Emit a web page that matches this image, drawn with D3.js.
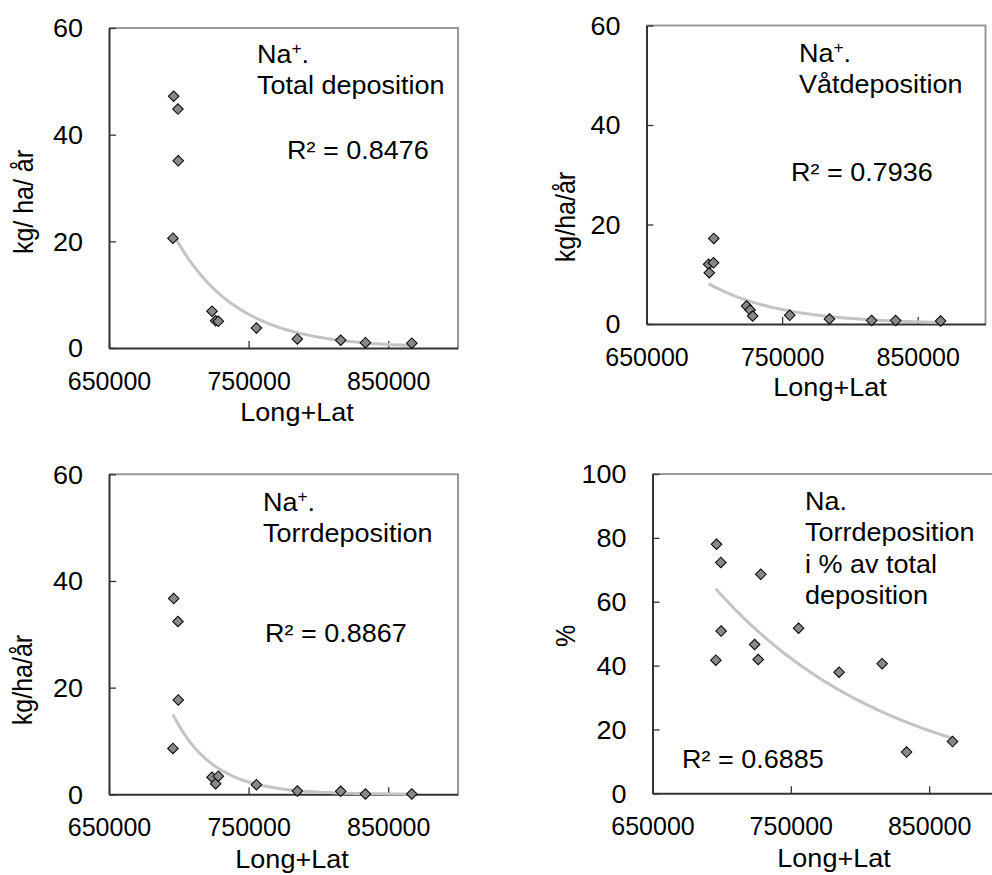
<!DOCTYPE html>
<html lang="sv">
<head>
<meta charset="UTF-8">
<title>Na deposition vs Long+Lat</title>
<script src="https://cdn.jsdelivr.net/npm/d3@7/dist/d3.min.js"></script>
<style>
  body { margin: 0; background: #fff; }
  text { font-family: "Liberation Sans", Arial, sans-serif; font-size: 25px; fill: #000; }
</style>
</head>
<body>
<script>

var longLat = [695800, 696300, 699400, 699600, 723800, 726400, 728300, 755600, 784900, 816000, 833700, 866900];
var totalDep = [20.6, 47.2, 44.8, 35.1, 6.9, 5.1, 5.0, 3.75, 1.7, 1.45, 1.0, 0.9];
var wetDep   = [12.0, 10.3, 12.3, 17.2, 3.6, 2.8, 1.6, 1.75, 1.0, 0.7, 0.7, 0.6];
var dryDep   = [8.6, 36.7, 32.4, 17.7, 3.2, 2.0, 3.4, 1.8, 0.62, 0.56, 0.06, 0.06];
var dryPct   = [41.7, 78.0, 72.3, 50.8, 46.6, 41.9, 68.6, 51.7, 37.9, 40.6, 12.9, 16.2];

var xTicks = [650000, 750000, 850000];
var kgTicks = [0, 20, 40, 60];
var pctTicks = [0, 20, 40, 60, 80, 100];

var SX = 1.08; // text in the picture is a bit wide

var panels = [
  { values: totalDep, yMax: 60, yTicks: kgTicks, box: [109, 458, 28, 348],
    ylab: "kg/ ha/ år", ylabPos: [24, 202], xlabPos: [297, 421],
    lines: ["Na", "Total deposition"], notePos: [257, 63], r2: "R² = 0.8476", r2Pos: [287, 159] },
  { values: wetDep, yMax: 60, yTicks: kgTicks, box: [646.5, 985.5, 25.5, 324],
    ylab: "kg/ha/år", ylabPos: [566, 217], xlabPos: [830, 396],
    lines: ["Na", "Våtdeposition"], notePos: [799, 62], r2: "R² = 0.7936", r2Pos: [791, 181] },
  { values: dryDep, yMax: 60, yTicks: kgTicks, box: [109, 458, 474.3, 794.3],
    ylab: "kg/ha/år", ylabPos: [23, 680], xlabPos: [292, 868],
    lines: ["Na", "Torrdeposition"], notePos: [263, 511], r2: "R² = 0.8867", r2Pos: [265, 642] },
  { values: dryPct, yMax: 100, yTicks: pctTicks, box: [652.5, 998.3, 474, 793.3],
    ylab: "%", ylabPos: [566, 636], xlabPos: [834, 867],
    lines: ["Na.", "Torrdeposition", "i % av total", "deposition"], notePos: [805, 510], plain: true,
    r2: "R² = 0.6885", r2Pos: [682, 768] }
];

var svg = d3.select("body").append("svg")
  .attr("width", 992)
  .attr("height", 875);

function txt(g, x, y, s, anchor) {
  return g.append("text")
    .attr("transform", "translate(" + x + "," + y + ") scale(" + SX + ",1)")
    .attr("text-anchor", anchor || "start")
    .text(s);
}

// exponential trendline, least squares on ln(y) like a spreadsheet does
function expFit(xs, ys) {
  var lx = xs, ly = ys.map(function (v) { return Math.log(v); });
  var mx = d3.mean(lx), my = d3.mean(ly);
  var sxy = d3.sum(lx, function (v, i) { return (v - mx) * (ly[i] - my); });
  var sxx = d3.sum(lx, function (v) { return (v - mx) * (v - mx); });
  var b = sxy / sxx, a = my - b * mx;
  return function (x) { return Math.exp(a + b * x); };
}

panels.forEach(function (p) {
  var L = p.box[0], R = p.box[1], T = p.box[2], B = p.box[3];
  var g = svg.append("g");

  var x = d3.scaleLinear().domain([650000, 900000]).range([L, R]);
  var y = d3.scaleLinear().domain([0, p.yMax]).range([B, T]);

  // top and right frame
  g.append("path")
    .attr("d", "M" + L + "," + T + "H" + R + "V" + B)
    .attr("fill", "none")
    .attr("stroke", "#999")
    .attr("stroke-width", 2);

  var ax = g.append("g")
    .attr("transform", "translate(0," + B + ")")
    .call(d3.axisBottom(x).tickValues(xTicks).tickFormat(d3.format("d"))
      .tickSizeInner(-7).tickSizeOuter(0).tickPadding(24));
  var ay = g.append("g")
    .attr("transform", "translate(" + L + ",0)")
    .call(d3.axisLeft(y).tickValues(p.yTicks)
      .tickSizeInner(-7).tickSizeOuter(0).tickPadding(24));

  [ax, ay].forEach(function (a) {
    a.select(".domain").attr("stroke", "#333").attr("stroke-width", 2);
    a.selectAll(".tick line").attr("stroke", "#333").attr("stroke-width", 1.3);
    a.selectAll("text")
      .attr("font-size", 25)
      .attr("font-family", '"Liberation Sans", Arial, sans-serif')
      .attr("fill", "#000");
  });
  ay.selectAll("text").attr("dy", "0.35em")
    .attr("transform", "scale(" + SX + ",1)");

  // trendline
  var f = expFit(longLat, p.values);
  var x0 = d3.min(longLat), x1 = d3.max(longLat);
  var xs = d3.range(0, 61).map(function (i) { return x0 + (x1 - x0) * i / 60; });
  g.append("path")
    .datum(xs)
    .attr("fill", "none")
    .attr("stroke", "#c4c4c4")
    .attr("stroke-width", 3)
    .attr("d", d3.line().x(function (d) { return x(d); }).y(function (d) { return y(f(d)); }));

  // markers
  g.selectAll(".pt")
    .data(p.values)
    .enter().append("path")
    .attr("class", "pt")
    .attr("d", d3.symbol().type(d3.symbolSquare).size(56))
    .attr("transform", function (d, i) { return "translate(" + x(longLat[i]) + "," + y(d) + ") rotate(45)"; })
    .attr("fill", "#888")
    .attr("stroke", "#000")
    .attr("stroke-width", 1);

  // axis titles
  txt(g, p.xlabPos[0], p.xlabPos[1], "Long+Lat", "middle");
  g.append("text")
    .attr("transform", "translate(" + p.ylabPos[0] + "," + p.ylabPos[1] + ") scale(" + SX + ",1) rotate(-90)")
    .attr("text-anchor", "middle")
    .attr("dy", "0.35em")
    .text(p.ylab);

  // notes
  p.lines.forEach(function (s, i) {
    var t = txt(g, p.notePos[0], p.notePos[1] + i * 31.3, i === 0 && !p.plain ? "" : s);
    if (i === 0 && !p.plain) {
      t.append("tspan").text(s);
      t.append("tspan").attr("font-size", 16).attr("dy", -9).text("+");
      t.append("tspan").attr("dy", 9).text(".");
    }
  });
  txt(g, p.r2Pos[0], p.r2Pos[1], p.r2);
});

</script>
</body>
</html>
